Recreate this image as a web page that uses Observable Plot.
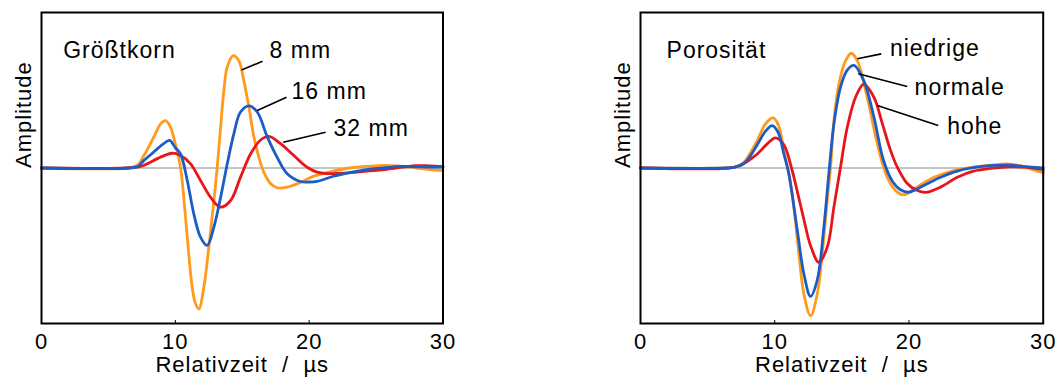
<!DOCTYPE html>
<html>
<head>
<meta charset="utf-8">
<script src="https://cdn.jsdelivr.net/npm/d3@7"></script>
<script src="https://cdn.jsdelivr.net/npm/@observablehq/plot@0.6"></script>
<style>
  html, body { margin: 0; padding: 0; background: #fff; }
  #wrap { display: flex; width: 1060px; height: 383px; }
  svg text { white-space: pre; letter-spacing: 1px; }
</style>
</head>
<body>
<div id="wrap"></div>
<script>
// ---------- shared ----------
const xDomain = [0, 30];
const yDomain = [-1, 1];
const xTicks = [0, 10, 20, 30];
const xLabel = "Relativzeit  /  µs";
const yLabel = "Amplitude";
const lineColors = ["#ff9a1a", "#e8151b", "#1b5cc6"]; // orange, red, blue

// ---------- left panel: Größtkorn ----------
const leftTitle = "Größtkorn";
const leftNames = ["8 mm", "32 mm", "16 mm"];
const t8 = [0, 6.4, 7.15, 7.65, 8.4, 8.9, 9.27, 9.6, 10.0, 10.39, 10.76, 11.0, 11.26, 11.5, 11.76, 12.13, 12.5, 12.88, 13.13, 13.38, 13.63, 13.88, 14.33, 14.75, 15.12, 15.5, 15.87, 16.24, 16.61, 17.11, 17.6, 18.36, 19.3, 20.3, 21.8, 23.0, 24.3, 25.6, 27.0, 28.0, 29.0, 30];
const a8 = [0, 0, 0.016, 0.08, 0.2, 0.284, 0.305, 0.27, 0.156, 0, -0.316, -0.55, -0.767, -0.87, -0.906, -0.767, -0.51, -0.21, 0.005, 0.26, 0.5, 0.65, 0.723, 0.69, 0.56, 0.39, 0.2, 0.07, -0.027, -0.10, -0.127, -0.123, -0.095, -0.053, -0.02, 0, 0.01, 0.017, 0.01, 0, -0.01, -0.017];
const t16 = [0, 6.6, 7.2, 7.65, 8.15, 8.65, 9.1, 9.57, 10.0, 10.39, 10.89, 11.38, 11.88, 12.38, 12.88, 13.38, 13.88, 14.37, 14.87, 15.5, 16.12, 16.87, 17.6, 18.36, 19.36, 20.0, 20.6, 21.8, 23.0, 24.3, 25.5, 26.8, 28.0, 29.0, 30];
const a16 = [0, 0, 0.01, 0.048, 0.085, 0.123, 0.155, 0.177, 0.13, 0.09, -0.08, -0.295, -0.445, -0.498, -0.38, -0.19, 0.027, 0.22, 0.36, 0.40, 0.36, 0.2, 0.07, -0.037, -0.087, -0.09, -0.086, -0.053, -0.03, -0.01, 0, 0.01, 0.008, 0.006, 0.006];
const t32 = [0, 6.4, 7.4, 7.9, 8.9, 9.77, 10.39, 11.14, 11.88, 12.63, 13.38, 14.13, 14.87, 15.62, 16.37, 16.99, 17.86, 18.86, 19.85, 20.6, 21.3, 22.2, 23.1, 24.3, 25.6, 27.0, 28.0, 29.0, 30];
const a32 = [0, 0, 0.01, 0.027, 0.07, 0.095, 0.08, 0.027, -0.08, -0.188, -0.252, -0.209, -0.059, 0.09, 0.18, 0.203, 0.156, 0.08, 0.005, -0.027, -0.036, -0.035, -0.03, -0.02, -0.01, 0.005, 0.015, 0.014, 0.01];
// label anchors (data units) and leader lines
const leftLabelText = ["8 mm", "16 mm", "32 mm"];
const leftLabelX = [17.04, 18.68, 21.82];
const leftLabelY = [0.754, 0.492, 0.252];
const leftLeadX1 = [14.95, 16.12, 18.06];
const leftLeadY1 = [0.63, 0.37, 0.166];
const leftLeadX2 = [16.52, 18.31, 21.23];
const leftLeadY2 = [0.687, 0.455, 0.23];
const leftTitleX = 1.62;
const leftTitleY = 0.756;

// ---------- right panel: Porosität ----------
const rightTitle = "Porosität";
const rightNames = ["niedrige", "hohe", "normale"];
const tLow = [0, 6.46, 7.0, 7.7, 8.2, 8.7, 9.31, 9.89, 10.3, 10.68, 11.05, 11.42, 11.8, 12.17, 12.67, 13.17, 13.54, 13.91, 14.16, 14.41, 14.78, 15.28, 15.7, 16.15, 16.89, 17.64, 18.38, 19.13, 19.62, 20.6, 21.86, 23.35, 24.8, 26.3, 27.3, 28.3, 29.2, 30];
const aLow = [0, 0, 0.005, 0.037, 0.1, 0.177, 0.284, 0.323, 0.27, 0.11, -0.037, -0.25, -0.55, -0.81, -0.95, -0.81, -0.55, -0.21, 0.005, 0.305, 0.54, 0.69, 0.738, 0.69, 0.455, 0.156, -0.06, -0.155, -0.173, -0.123, -0.06, -0.016, 0.005, 0.02, 0.026, 0.015, -0.01, -0.03];
const tNorm = [0, 6.46, 7.0, 7.7, 8.2, 8.7, 9.3, 9.81, 10.25, 10.68, 11.05, 11.68, 12.17, 12.67, 13.17, 13.66, 14.03, 14.41, 14.9, 15.4, 15.9, 16.64, 17.39, 18.1, 18.8, 19.37, 20.0, 21.1, 22.35, 23.6, 25.0, 26.3, 27.5, 28.5, 30];
const aNorm = [0, 0, 0.005, 0.03, 0.08, 0.15, 0.235, 0.273, 0.23, 0.09, -0.037, -0.40, -0.68, -0.826, -0.72, -0.38, -0.037, 0.284, 0.52, 0.63, 0.66, 0.56, 0.327, 0.05, -0.09, -0.14, -0.155, -0.113, -0.06, -0.02, 0.005, 0.017, 0.018, 0.01, 0];
const tHigh = [0, 6.6, 7.45, 8.0, 8.7, 9.44, 10.06, 10.68, 11.25, 11.68, 12.17, 12.67, 13.29, 13.91, 14.41, 14.9, 15.4, 16.02, 16.64, 17.39, 18.0, 18.6, 19.13, 19.87, 20.62, 21.24, 22.35, 23.6, 24.8, 26.3, 27.5, 28.5, 30];
const aHigh = [0, 0, 0.016, 0.045, 0.09, 0.155, 0.194, 0.15, 0, -0.15, -0.33, -0.5, -0.606, -0.51, -0.25, 0.005, 0.26, 0.455, 0.54, 0.455, 0.29, 0.12, 0.005, -0.1, -0.145, -0.157, -0.123, -0.06, -0.02, 0, 0.008, 0.005, -0.01];
const rightLabelText = ["niedrige", "normale", "hohe"];
const rightLabelX = [18.58, 20.42, 22.85];
const rightLabelY = [0.767, 0.514, 0.265];
const rightLeadX1 = [16.15, 16.22, 17.64];
const rightLeadY1 = [0.702, 0.606, 0.402];
const rightLeadX2 = [17.94, 19.87, 22.18];
const rightLeadY2 = [0.734, 0.524, 0.273];
const rightTitleX = 1.94;
const rightTitleY = 0.756;

function rowsOf(names, ts, as) {
  const rows = [];
  names.forEach((n, k) => ts[k].forEach((t, i) => rows.push({t, a: as[k][i], name: n})));
  return rows;
}
function zip(keys, arrays) {
  return arrays[0].map((_, i) => Object.fromEntries(keys.map((k, j) => [k, arrays[j][i]])));
}

function panel(cfg) {
  const rows = rowsOf(cfg.names, cfg.ts, cfg.as);
  const labels = zip(["text", "x", "y"], [cfg.labelText, cfg.labelX, cfg.labelY]);
  const leads = zip(["x1", "y1", "x2", "y2"], [cfg.lx1, cfg.ly1, cfg.lx2, cfg.ly2]);
  const innerH = 383 - 12 - 60;
  return Plot.plot({
    width: 530, height: 383,
    marginLeft: cfg.ml, marginRight: cfg.mr, marginTop: 12, marginBottom: 60,
    x: {domain: xDomain, axis: null},
    y: {domain: yDomain, axis: null},
    color: {domain: cfg.names, range: lineColors},
    style: {fontFamily: "'Liberation Sans', Arial, sans-serif", fontSize: "22px", background: "#fff", overflow: "visible"},
    marks: [
      Plot.ruleY([0], {stroke: "#8a8a8a", strokeWidth: 1}),
      Plot.line(rows, {x: "t", y: "a", z: "name", stroke: "name", strokeWidth: 2.8, curve: "catmull-rom"}),
      Plot.link(leads, {x1: "x1", y1: "y1", x2: "x2", y2: "y2", stroke: "black", strokeWidth: 1.6}),
      Plot.text(labels, {x: "x", y: "y", text: "text", textAnchor: "start", fontSize: 23, fill: "black"}),
      Plot.text([cfg.title], {x: () => cfg.titleX, y: () => cfg.titleY, text: d => d, textAnchor: "start", fontSize: 23, fill: "black"}),
      Plot.ruleX(xTicks.slice(1, -1), {x: d => d, insetTop: innerH - 3, stroke: "black", strokeWidth: 1}),
      Plot.frame({stroke: "black", strokeWidth: 2}),
      Plot.axisX({ticks: xTicks, tickSize: 0, tickPadding: 10, fontSize: 22, label: null, tickFormat: d => String(d)}),
      Plot.text([yLabel], {frameAnchor: "left", dx: -18, rotate: -90, text: d => d, fontSize: 22, fill: "black"}),
      Plot.text([xLabel], {frameAnchor: "bottom", dy: 48, text: d => d, fontSize: 22, fill: "black"})
    ]
  });
}

const wrap = document.getElementById("wrap");
wrap.append(panel({
  names: leftNames, ts: [t8, t32, t16], as: [a8, a32, a16],
  labelText: leftLabelText, labelX: leftLabelX, labelY: leftLabelY,
  lx1: leftLeadX1, ly1: leftLeadY1, lx2: leftLeadX2, ly2: leftLeadY2,
  title: leftTitle, titleX: leftTitleX, titleY: leftTitleY,
  ml: 41, mr: 87.5
}));
wrap.append(panel({
  names: rightNames, ts: [tLow, tHigh, tNorm], as: [aLow, aHigh, aNorm],
  labelText: rightLabelText, labelX: rightLabelX, labelY: rightLabelY,
  lx1: rightLeadX1, ly1: rightLeadY1, lx2: rightLeadX2, ly2: rightLeadY2,
  title: rightTitle, titleX: rightTitleX, titleY: rightTitleY,
  ml: 110, mr: 17.3
}));
</script>
</body>
</html>
